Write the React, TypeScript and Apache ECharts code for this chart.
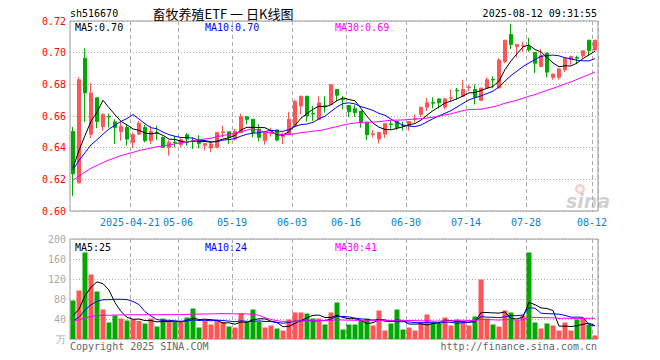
import React, { useEffect, useRef } from 'react';
import * as echarts from 'echarts';

// trading days shown (2025-04-07 .. 2025-08-12)
const dates = [
  '2025-04-07','2025-04-08','2025-04-09','2025-04-10','2025-04-11','2025-04-14','2025-04-15','2025-04-16','2025-04-17','2025-04-18',
  '2025-04-21','2025-04-22','2025-04-23','2025-04-24','2025-04-25','2025-04-28','2025-04-29','2025-04-30',
  '2025-05-06','2025-05-07','2025-05-08','2025-05-09','2025-05-12','2025-05-13','2025-05-14','2025-05-15','2025-05-16',
  '2025-05-19','2025-05-20','2025-05-21','2025-05-22','2025-05-23','2025-05-26','2025-05-27','2025-05-28','2025-05-29','2025-05-30',
  '2025-06-03','2025-06-04','2025-06-05','2025-06-06','2025-06-09','2025-06-10','2025-06-11','2025-06-12','2025-06-13',
  '2025-06-16','2025-06-17','2025-06-18','2025-06-19','2025-06-20','2025-06-23','2025-06-24','2025-06-25','2025-06-26','2025-06-27',
  '2025-06-30','2025-07-01','2025-07-02','2025-07-03','2025-07-04','2025-07-07','2025-07-08','2025-07-09','2025-07-10','2025-07-11',
  '2025-07-14','2025-07-15','2025-07-16','2025-07-17','2025-07-18','2025-07-21','2025-07-22','2025-07-23','2025-07-24','2025-07-25',
  '2025-07-28','2025-07-29','2025-07-30','2025-07-31','2025-08-01','2025-08-04','2025-08-05','2025-08-06','2025-08-07','2025-08-08',
  '2025-08-11','2025-08-12',
];

const tickDates = ['2025-04-21','2025-05-06','2025-05-19','2025-06-03','2025-06-16','2025-06-30','2025-07-14','2025-07-28','2025-08-12'];

const opens = [
  0.6502,0.6179,0.6965,0.6485,0.6715,0.6533,0.6598,0.6563,0.6502,0.6527,
  0.6433,0.6485,0.6527,0.6444,0.6494,0.6465,0.6402,0.6435,0.6419,0.6481,
  0.6442,0.6448,0.6415,0.6398,0.6402,0.6496,0.6500,0.6454,0.6496,0.6596,
  0.6579,0.6517,0.6444,0.6494,0.6512,0.6469,0.6485,0.6538,0.6663,0.6725,
  0.6617,0.6579,0.6665,0.6673,0.6767,0.6706,0.6667,0.6646,0.6631,0.6558,
  0.6483,0.6454,0.6485,0.6550,0.6565,0.6540,0.6538,0.6580,0.6610,0.6656,
  0.6685,0.6708,0.6656,0.6712,0.6762,0.6725,0.6779,0.6767,0.6698,0.6777,
  0.6831,0.6777,0.6944,0.7115,0.7038,0.7042,0.7038,0.7002,0.6913,0.6996,
  0.6844,0.6844,0.6892,0.6954,0.6969,0.6981,0.7079,0.7017,
];
const closes = [
  0.6235,0.6829,0.6746,0.6746,0.6565,0.6610,0.6594,0.6527,0.6533,0.6454,
  0.6481,0.6554,0.6444,0.6502,0.6490,0.6402,0.6433,0.6431,0.6450,0.6454,
  0.6440,0.6427,0.6425,0.6423,0.6496,0.6500,0.6465,0.6504,0.6596,0.6579,
  0.6496,0.6465,0.6496,0.6500,0.6448,0.6485,0.6579,0.6692,0.6725,0.6600,
  0.6613,0.6683,0.6662,0.6798,0.6731,0.6702,0.6627,0.6621,0.6558,0.6481,
  0.6488,0.6496,0.6552,0.6546,0.6527,0.6537,0.6565,0.6583,0.6656,0.6683,
  0.6681,0.6683,0.6708,0.6715,0.6758,0.6767,0.6783,0.6719,0.6777,0.6829,
  0.6827,0.6954,0.7079,0.7052,0.7052,0.7044,0.7017,0.6933,0.6981,0.6877,
  0.6865,0.6898,0.6965,0.6975,0.6965,0.7012,0.7013,0.7079,
];
const highs = [
  0.6531,0.6846,0.7027,0.6808,0.6715,0.6617,0.6615,0.6579,0.6565,0.6544,
  0.6496,0.6569,0.6544,0.6538,0.6538,0.6471,0.6448,0.6475,0.6460,0.6492,
  0.6465,0.6479,0.6431,0.6438,0.6496,0.6538,0.6500,0.6517,0.6615,0.6596,
  0.6579,0.6548,0.6506,0.6527,0.6512,0.6496,0.6627,0.6704,0.6725,0.6725,
  0.6663,0.6725,0.6725,0.6798,0.6767,0.6725,0.6667,0.6669,0.6631,0.6558,
  0.6512,0.6496,0.6552,0.6569,0.6565,0.6565,0.6569,0.6610,0.6656,0.6715,
  0.6719,0.6708,0.6715,0.6767,0.6777,0.6829,0.6798,0.6798,0.6777,0.6844,
  0.6850,0.6965,0.7079,0.7183,0.7052,0.7069,0.7094,0.7002,0.7023,0.7002,
  0.6865,0.6898,0.6965,0.6981,0.6981,0.7012,0.7079,0.7079,
];
const lows = [
  0.6094,0.6173,0.6563,0.6460,0.6523,0.6506,0.6527,0.6423,0.6444,0.6413,
  0.6398,0.6481,0.6433,0.6423,0.6448,0.6398,0.6350,0.6402,0.6402,0.6413,
  0.6392,0.6396,0.6383,0.6371,0.6396,0.6465,0.6423,0.6444,0.6496,0.6548,
  0.6465,0.6440,0.6419,0.6469,0.6440,0.6423,0.6485,0.6527,0.6610,0.6565,
  0.6569,0.6579,0.6621,0.6669,0.6694,0.6642,0.6594,0.6594,0.6527,0.6448,
  0.6465,0.6427,0.6460,0.6517,0.6512,0.6508,0.6508,0.6558,0.6594,0.6631,
  0.6648,0.6648,0.6642,0.6694,0.6704,0.6721,0.6756,0.6673,0.6694,0.6773,
  0.6777,0.6773,0.6933,0.7023,0.6969,0.7006,0.7006,0.6871,0.6913,0.6844,
  0.6829,0.6829,0.6877,0.6923,0.6927,0.6965,0.6981,0.7006,
];
// volume, 万
const volumes = [
  77,97,173,129,95,59,33,47,41,37,
  39,36,31,41,25,41,37,34,34,43,
  61,23,37,29,37,34,25,23,51,34,
  59,35,23,27,21,17,39,53,53,51,
  41,41,29,53,73,19,29,29,37,41,
  27,57,17,31,59,19,23,17,33,49,
  33,31,43,27,39,33,27,45,119,41,
  29,25,57,53,37,47,173,33,21,31,
  27,17,33,17,39,41,29,7,
];
// earlier sessions (not drawn) estimated from where the moving-average lines start
const priorCloses = [
  0.600,0.602,0.601,0.604,0.607,0.610,0.612,0.611,0.615,
  0.618,0.620,0.622,0.624,0.625,0.626,0.624,0.623,0.625,0.626,0.626,
  0.624,0.626,0.625,0.624,0.626,0.627,0.628,0.629,0.628,
];
const priorVolumes = [
  50,46,49,47,35,32,30,36,34,31,38,33,35,30,34,36,32,33,35,36,
  28,25,27,26,26,33,38,42,43,
];

const priceTicks = [0.6, 0.72, 0.02];
const volumeTicks = [0, 200, 40];
const priceLegend = ['MA5:0.70', 'MA10:0.70', 'MA30:0.69'];
const volumeLegend = ['MA5:25', 'MA10:24', 'MA30:41'];

const RED = '#ff5555';
const GREEN = '#00a800';
const MA_COLORS = ['#000000', '#0000ff', '#ff00ff'];
const MONO = '"DejaVu Sans Mono", monospace';

function movingAverage(prior: number[], values: number[], n: number, digits: number) {
  const all = prior.concat(values);
  const off = prior.length;
  return values.map((_, i) => {
    const end = off + i;
    const start = Math.max(0, end - n + 1);
    let s = 0;
    for (let j = start; j <= end; j++) s += all[j];
    return +(s / (end - start + 1)).toFixed(digits);
  });
}

export default function App() {
  const ref = useRef<HTMLDivElement>(null);
  useEffect(() => {
    if (!ref.current) return;
    const chart = echarts.init(ref.current, undefined, { renderer: 'svg' });
    const tickIdx = tickDates.map((d) => dates.indexOf(d));
    const showTick = (i: number) => tickIdx.indexOf(i) >= 0;
    const vGrid = { show: true, interval: showTick, lineStyle: { color: '#aaaaaa', width: 1, type: [4, 3] } };
    const hGrid = { show: true, lineStyle: { color: '#aaaaaa', width: 1, type: [1, 2] } };
    const periods = [5, 10, 30];
    const text = (t: string, x: number, y: number, fill: string, align = 'left', font = `10px ${MONO}`) => ({
      type: 'text', x, y, silent: true,
      style: { text: t, fill, font, textAlign: align, align, textVerticalAlign: 'middle', verticalAlign: 'middle' },
    });

    const option: any = {
      animation: false,
      backgroundColor: '#ffffff',
      grid: [
        { left: 70, top: 21, width: 528, height: 190, show: true, borderColor: '#999999', borderWidth: 1 },
        { left: 70, top: 239, width: 528, height: 100, show: true, borderColor: '#999999', borderWidth: 1 },
      ],
      xAxis: [
        {
          type: 'category', gridIndex: 0, data: dates, boundaryGap: true,
          axisLine: { show: false }, axisTick: { show: false, interval: showTick },
          axisLabel: {
            interval: showTick, color: '#0b7fd1', fontFamily: MONO, fontSize: 10, margin: 6,
            padding: [0, 6, 0, 0],
            formatter: (v: string) => (v === tickDates[0] ? v : v.slice(5)),
          },
          splitLine: vGrid,
        },
        {
          type: 'category', gridIndex: 1, data: dates, boundaryGap: true,
          axisLine: { show: false }, axisTick: { show: false, interval: showTick },
          axisLabel: { show: false, interval: showTick },
          splitLine: vGrid,
        },
      ],
      yAxis: [
        {
          type: 'value', gridIndex: 0, min: priceTicks[0], max: priceTicks[1], interval: priceTicks[2],
          axisLine: { show: false }, axisTick: { show: false },
          axisLabel: { color: '#ff0000', fontFamily: MONO, fontSize: 10, margin: 4, formatter: (v: number) => v.toFixed(2) },
          splitLine: hGrid,
        },
        {
          type: 'value', gridIndex: 1, min: volumeTicks[0], max: volumeTicks[1], interval: volumeTicks[2],
          axisLine: { show: false }, axisTick: { show: false },
          axisLabel: { color: '#aaaaaa', fontFamily: MONO, fontSize: 10, margin: 4, formatter: (v: number) => (v === 0 ? '万' : String(v)) },
          splitLine: hGrid,
        },
      ],
      series: [
        {
          type: 'candlestick', xAxisIndex: 0, yAxisIndex: 0, barWidth: 4,
          data: opens.map((o, i) => [o, closes[i], lows[i], highs[i]]),
          itemStyle: { color: RED, color0: GREEN, borderColor: RED, borderColor0: GREEN, borderWidth: 1 },
        },
        ...periods.map((p, j) => ({
          type: 'line', xAxisIndex: 0, yAxisIndex: 0, symbol: 'none', silent: true,
          data: movingAverage(priorCloses, closes, p, 4),
          lineStyle: { color: MA_COLORS[j], width: 1 },
        })),
        {
          type: 'bar', xAxisIndex: 1, yAxisIndex: 1, barWidth: 5,
          data: volumes.map((v, i) => ({ value: v, itemStyle: { color: closes[i] >= opens[i] ? RED : GREEN } })),
        },
        ...periods.map((p, j) => ({
          type: 'line', xAxisIndex: 1, yAxisIndex: 1, symbol: 'none', silent: true,
          data: movingAverage(priorVolumes, volumes, p, 2),
          lineStyle: { color: MA_COLORS[j], width: 1 },
        })),
      ],
      graphic: [
        text('sh516670', 70, 13, '#000000'),
        text('畜牧养殖ETF 一 日K线图', 223, 13, '#000000', 'center', '13px "Noto Sans CJK SC"'),
        text('2025-08-12 09:31:55', 597, 13, '#000000', 'right'),
        text(priceLegend[0], 75, 27, MA_COLORS[0]),
        text(priceLegend[1], 205, 27, MA_COLORS[1]),
        text(priceLegend[2], 335, 27, MA_COLORS[2]),
        text(volumeLegend[0], 75, 247, MA_COLORS[0]),
        text(volumeLegend[1], 205, 247, MA_COLORS[1]),
        text(volumeLegend[2], 335, 247, MA_COLORS[2]),
        text('Copyright 2025 SINA.COM', 70, 346, '#666666'),
        text('http://finance.sina.com.cn', 597, 346, '#666666', 'right'),
        {
          type: 'ring', silent: true,
          shape: { cx: 580, cy: 189, r: 5, r0: 2.5 },
          style: { fill: 'rgba(240,140,140,0.45)' },
        },
        text('sina', 566, 201, 'rgba(170,170,170,0.55)', 'left', 'italic bold 19px "DejaVu Sans"'),
      ],
    };
    chart.setOption(option);
    return () => chart.dispose();
  }, []);
  return <div ref={ref} style={{ position: 'fixed', left: 0, top: 0, width: 660, height: 360 }} />;
}
